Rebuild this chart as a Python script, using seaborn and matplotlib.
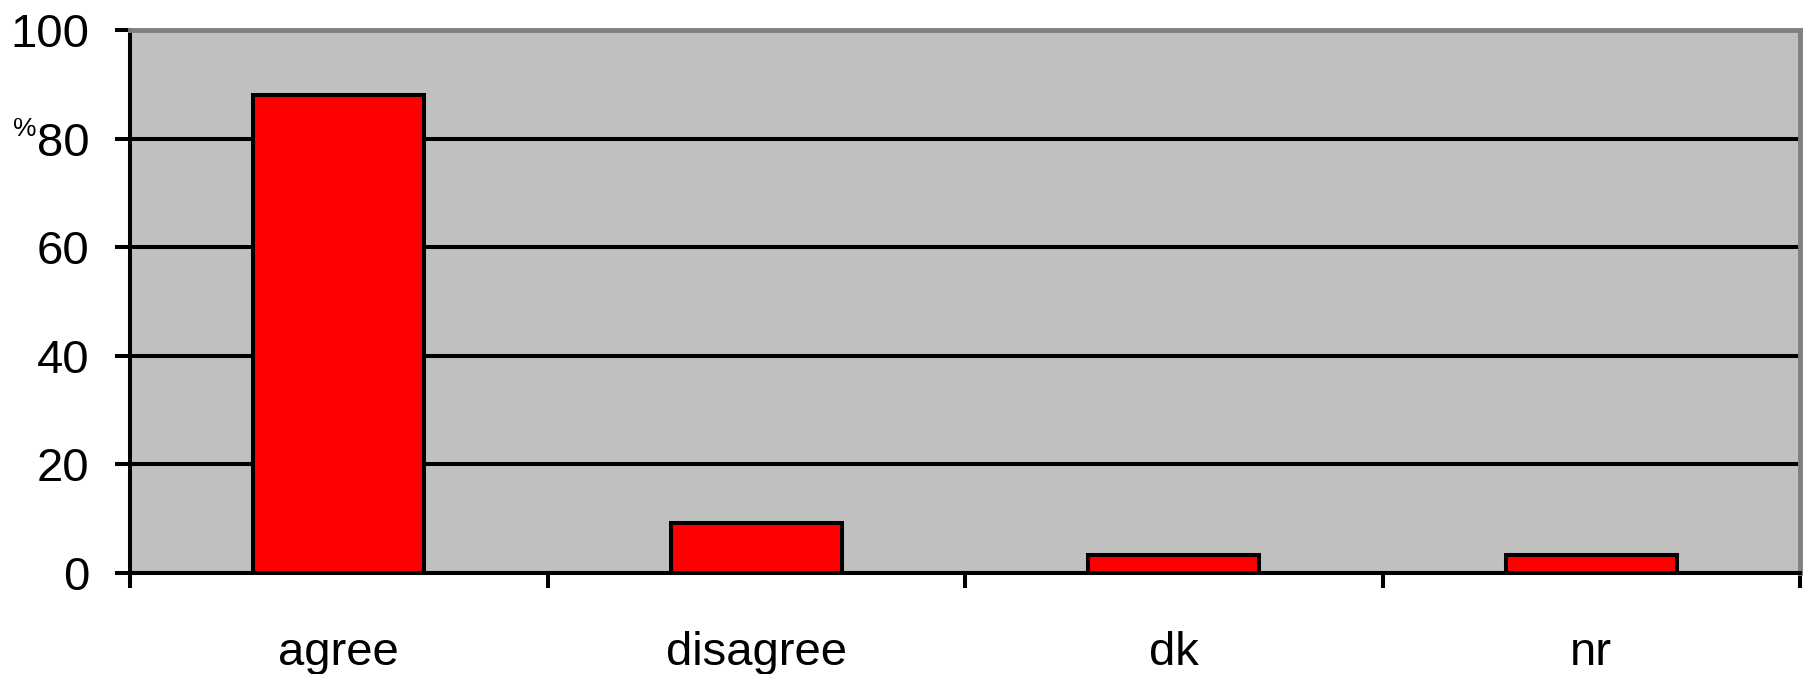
import matplotlib
matplotlib.use("Agg")
import matplotlib.pyplot as plt
import seaborn as sns

# Survey responses (percent)
categories = ["agree", "disagree", "dk", "nr"]
percents = [88, 9.3, 3.4, 3.4]
y_ticks = [0, 20, 40, 60, 80, 100]

sns.set_theme(style="white")
plt.rcParams["font.family"] = ["Liberation Sans", "DejaVu Sans"]
plt.rcParams["text.color"] = "black"
plt.rcParams["xtick.color"] = "black"
plt.rcParams["ytick.color"] = "black"

fig = plt.figure(figsize=(18.07, 6.74), dpi=100)
ax = fig.add_axes([130 / 1807, 1 - 573 / 674, 1670 / 1807, 543 / 674])
ax.set_facecolor("#c0c0c0")

sns.barplot(x=categories, y=percents, color="#ff0000", saturation=1,
            width=0.41, edgecolor="black", linewidth=2.9, ax=ax, zorder=3)

ax.set_xlim(-0.5, len(categories) - 0.5)
ax.set_ylim(0, 100)

# horizontal gridlines
ax.set_yticks(y_ticks)
ax.set_yticklabels([str(t) for t in y_ticks])
ax.yaxis.grid(True, color="black", linewidth=2.9, zorder=1)
ax.set_axisbelow(True)
ax.xaxis.grid(False)

# category labels centred, tick marks between categories
ax.set_xticks(range(len(categories)))
ax.set_xticklabels(categories)
ax.set_xticks([i - 0.5 for i in range(len(categories) + 1)], minor=True)
ax.tick_params(axis="x", which="major", length=0, pad=42, labelsize=34,
               labelcolor="black")
ax.tick_params(axis="x", which="minor", length=11, width=2.9, color="black",
               direction="out", bottom=True)
ax.tick_params(axis="y", which="major", length=11, width=2.9, color="black",
               direction="out", left=True, pad=18, labelsize=34,
               labelcolor="black")

for side in ("left", "bottom"):
    ax.spines[side].set_color("black")
    ax.spines[side].set_linewidth(2.9)
for side in ("top", "right"):
    ax.spines[side].set_visible(True)
    ax.spines[side].set_color("#808080")
    ax.spines[side].set_linewidth(3.5)

ax.set_xlabel("")
ax.set_ylabel("")
fig.text(25 / 1807, 1 - 129 / 674, "%", fontsize=19, ha="center", va="center",
         color="black")

fig.savefig("out.png", dpi=100)
